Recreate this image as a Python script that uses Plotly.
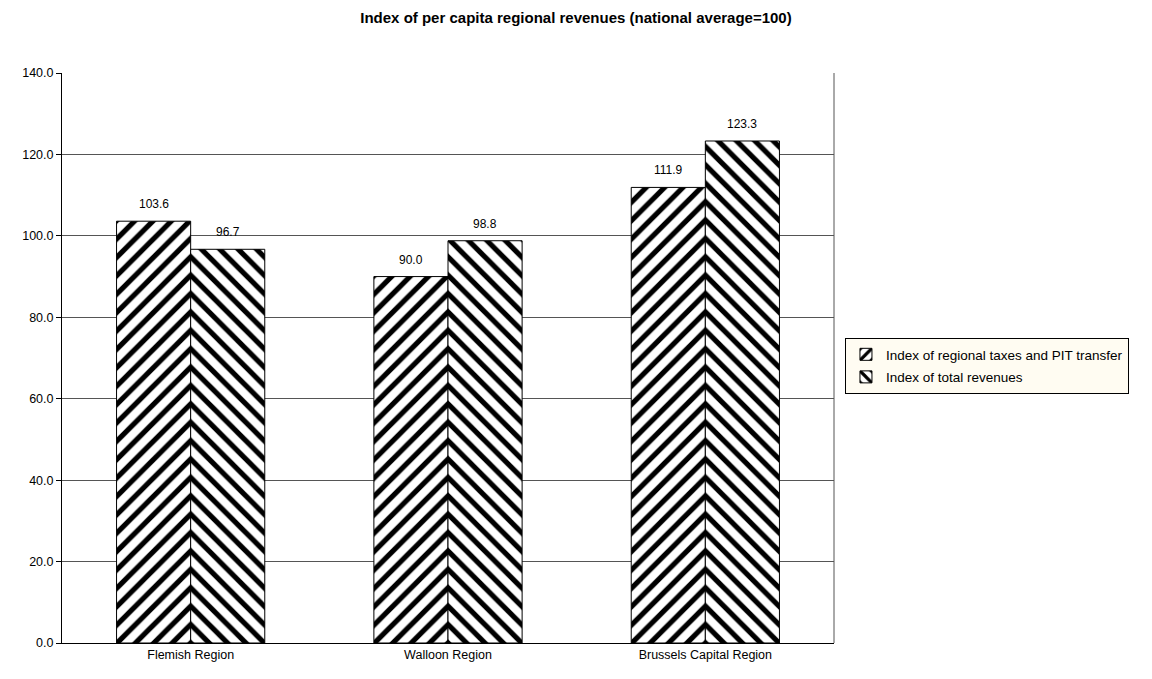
import plotly.graph_objects as go

categories = ["Flemish Region", "Walloon Region", "Brussels Capital Region"]
series_names = ["Index of regional taxes and PIT transfer", "Index of total revenues"]
taxes_pit = [103.6, 90.0, 111.9]
total_rev = [96.7, 98.8, 123.3]
y_ticks = [0, 20, 40, 60, 80, 100, 120, 140]

x_pos = list(range(len(categories)))
bar_offsets = [-0.144, 0.144]

fig = go.Figure()
for i, (name, vals, shape) in enumerate([(series_names[0], taxes_pit, "/"), (series_names[1], total_rev, "\\")]):
    fig.add_trace(go.Bar(
        x=x_pos, y=vals, name=name, legendgroup=f"g{i}",
        marker=dict(color="white", line=dict(color="black", width=1),
                    pattern=dict(shape=shape, fgcolor="black", bgcolor="white",
                                 size=13, solidity=0.4, fillmode="replace")),
    ))

for vals, off in [(taxes_pit, bar_offsets[0]), (total_rev, bar_offsets[1])]:
    for xi, v in zip(x_pos, vals):
        fig.add_annotation(x=xi + off, y=v, text=f"{v:.1f}", showarrow=False,
                           yanchor="bottom", yshift=8,
                           font=dict(size=12, color="black", family="Liberation Sans, Arial"))

fig.update_layout(
    width=1152, height=679,
    paper_bgcolor="white", plot_bgcolor="white",
    font=dict(family="Liberation Sans, Arial", size=12, color="black"),
    title=dict(text="<b>Index of per capita regional revenues (national average=100)</b>",
               x=0.5, xanchor="center", y=1 - 18 / 679, yanchor="middle",
               font=dict(size=15, family="Liberation Sans, Arial")),
    margin=dict(l=62, r=318, t=73, b=36),
    barmode="group", bargap=0.424, bargroupgap=0,
    showlegend=True,
    legend=dict(x=1.0142, y=0.535, xanchor="left", yanchor="top",
                bgcolor="#FFFCF2", bordercolor="black", borderwidth=1,
                font=dict(size=13.5), tracegroupgap=2, itemwidth=30),
    xaxis=dict(showline=True, linecolor="black", linewidth=1, mirror=False,
               tickvals=x_pos, ticktext=categories, range=[-0.5, 2.5],
               ticks="", tickfont=dict(size=12.5)),
    yaxis=dict(range=[0, 140], tickvals=y_ticks, tickformat=".1f",
               showgrid=True, gridcolor="#555555", gridwidth=1,
               showline=True, linecolor="black", linewidth=1,
               ticks="outside", ticklen=5, tickcolor="black",
               tickfont=dict(size=12.5), zeroline=False),
)
fig.add_shape(type="line", xref="paper", yref="paper", x0=1, x1=1, y0=0, y1=1,
              line=dict(color="#555555", width=1))

fig.write_html("out.html", config={"displayModeBar": False},
               post_script="document.body.style.margin='0';")
